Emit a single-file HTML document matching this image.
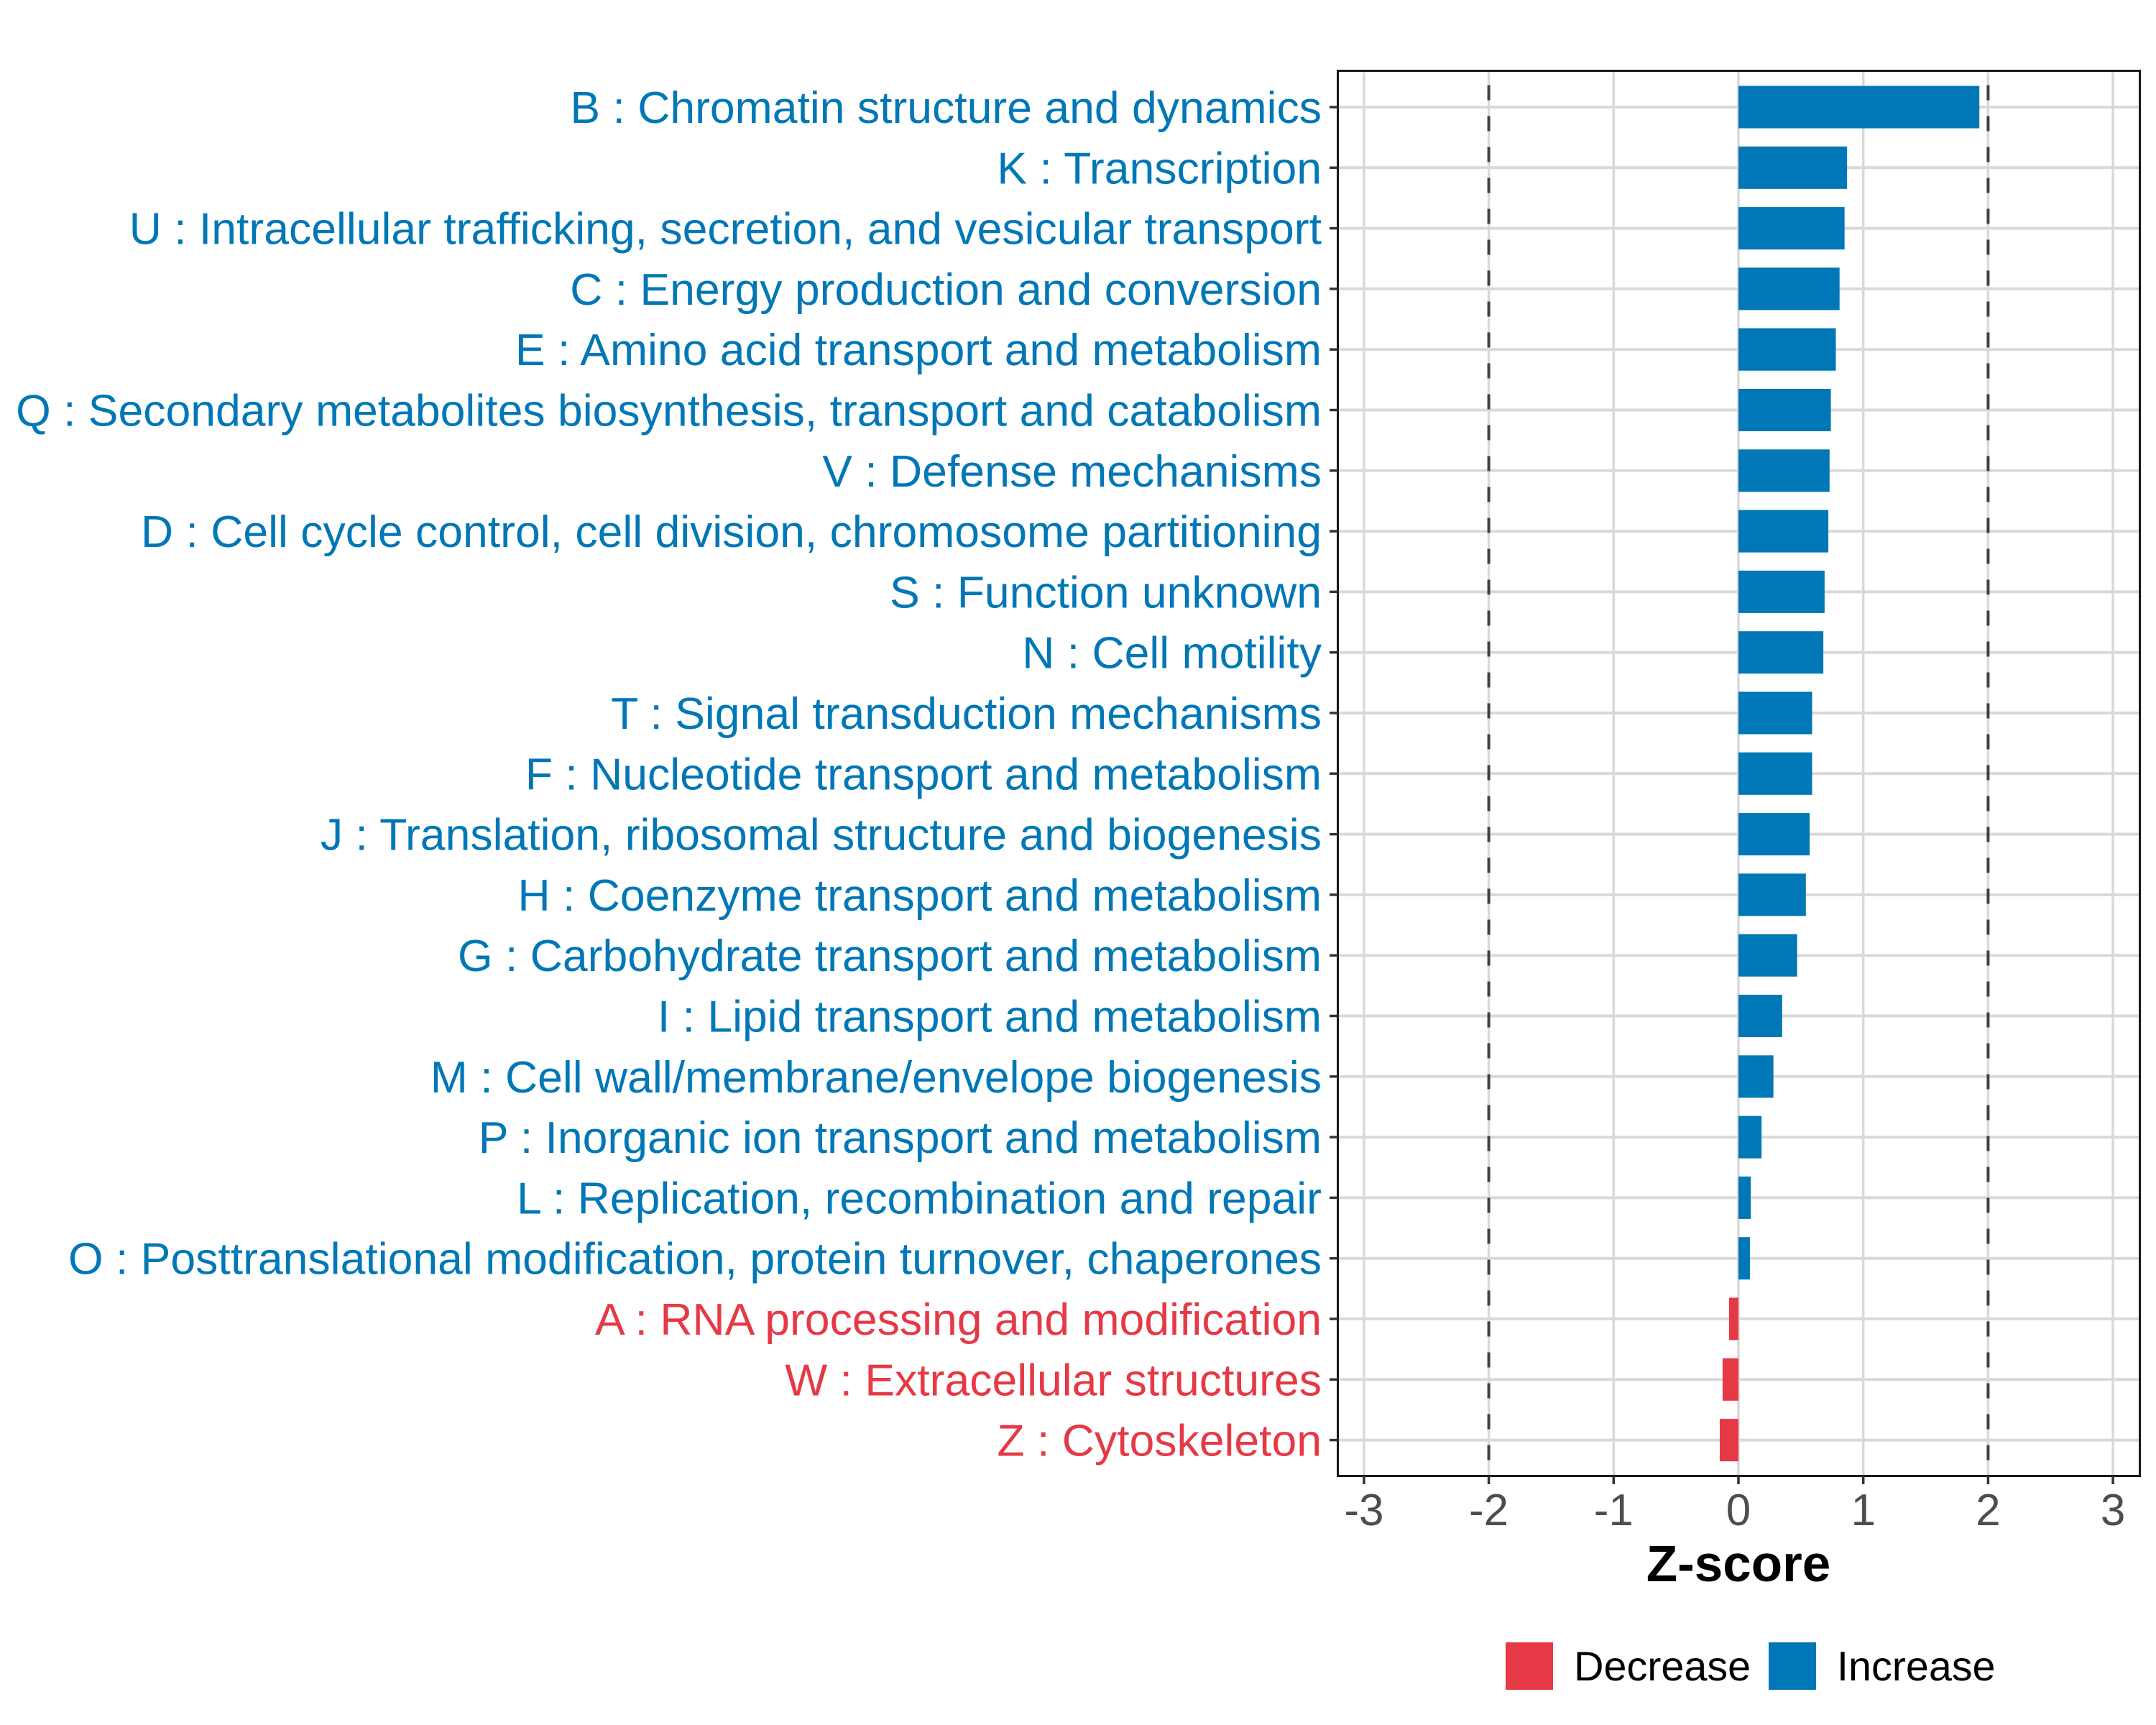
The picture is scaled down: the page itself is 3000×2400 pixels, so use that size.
<!DOCTYPE html>
<html><head><meta charset="utf-8"><style>
html,body{margin:0;padding:0;background:#fff;}
svg{display:block;font-family:"Liberation Sans",Arial,sans-serif;}
</style></head><body>
<svg id="chart" width="3000" height="2400" viewBox="0 0 3000 2400">
<g id="grid"></g>
<g id="bars"></g>
<g id="refs"></g>
<rect x="1861.5" y="98.5" width="1116" height="1955" fill="none" stroke="#1a1a1a" stroke-width="3"/>
<g id="yaxis"></g>
<g id="xaxis"></g>
<text x="2419" y="2200" font-size="71" font-weight="bold" text-anchor="middle" fill="#000">Z-score</text>
<g>
<rect x="2095" y="2285" width="66" height="66" fill="#E63946"/>
<text x="2190" y="2338" font-size="57.5" fill="#000">Decrease</text>
<rect x="2461" y="2285" width="66" height="66" fill="#0077B6"/>
<text x="2556" y="2338" font-size="57.5" fill="#000">Increase</text>
</g>
</svg>
<script>
const categories = ["B : Chromatin structure and dynamics","K : Transcription","U : Intracellular trafficking, secretion, and vesicular transport","C : Energy production and conversion","E : Amino acid transport and metabolism","Q : Secondary metabolites biosynthesis, transport and catabolism","V : Defense mechanisms","D : Cell cycle control, cell division, chromosome partitioning","S : Function unknown","N : Cell motility","T : Signal transduction mechanisms","F : Nucleotide transport and metabolism","J : Translation, ribosomal structure and biogenesis","H : Coenzyme transport and metabolism","G : Carbohydrate transport and metabolism","I : Lipid transport and metabolism","M : Cell wall/membrane/envelope biogenesis","P : Inorganic ion transport and metabolism","L : Replication, recombination and repair","O : Posttranslational modification, protein turnover, chaperones","A : RNA processing and modification","W : Extracellular structures","Z : Cytoskeleton"];
const zscores = [1.93,0.87,0.85,0.81,0.78,0.74,0.73,0.72,0.69,0.68,0.59,0.59,0.57,0.54,0.47,0.35,0.28,0.185,0.098,0.092,-0.075,-0.127,-0.15];
const xTicks = [-3,-2,-1,0,1,2,3];
const xTickLabels = ["-3","-2","-1","0","1","2","3"];
const refValues = [-2,2];

const NS="http://www.w3.org/2000/svg";
const X0=2419, UNIT=173.7, Y0=149, STEP=84.3, BARH=59;
const xs=v=>X0+v*UNIT;
const ys=i=>Y0+i*STEP;
function mk(tag,attrs,parent){const e=document.createElementNS(NS,tag);for(const k in attrs)e.setAttribute(k,attrs[k]);parent.appendChild(e);return e;}
const grid=document.getElementById('grid'),bars=document.getElementById('bars'),refs=document.getElementById('refs'),yax=document.getElementById('yaxis'),xax=document.getElementById('xaxis');
mk('rect',{x:1861.5,y:98.5,width:1116,height:1955,fill:'#fff'},grid);
xTicks.forEach((t,i)=>{
  const l=mk('line',{x1:xs(t),x2:xs(t),y1:98.5,y2:2053.5,stroke:'#d9d9d9','stroke-width':3.5},grid);
  
  
  const tk=mk('line',{x1:xs(t),x2:xs(t),y1:2053.5,y2:2065,stroke:'#333','stroke-width':3.5},xax);
  
  
  const tx=mk('text',{x:xs(t),y:2122,'font-size':62,'text-anchor':'middle',fill:'#4d4d4d'},xax);
  tx.textContent=xTickLabels[i];
  
  
});
categories.forEach((c,i)=>{
  const y=ys(i);
  const gl=mk('line',{x1:1861.5,x2:2977.5,y1:y,y2:y,stroke:'#d9d9d9','stroke-width':4},grid);
  
  
  const v=zscores[i];
  const col=v<0?'#E63946':'#0077B6';
  const r=mk('rect',{x:Math.min(xs(0),xs(v)),y:y-BARH/2,width:Math.abs(xs(v)-xs(0)),height:BARH,fill:col},bars);
  
  
  const tk=mk('line',{x1:1850,x2:1861.5,y1:y,y2:y,stroke:'#333','stroke-width':3.5},yax);
  
  
  const t=mk('text',{x:1839,y:y+22,'font-size':62.5,'text-anchor':'end',fill:col},yax);
  t.textContent=c;
  
  
});
refValues.forEach(v=>{
  const l=mk('line',{x1:xs(v),x2:xs(v),y1:98.5,y2:2053.5,stroke:'#404040','stroke-width':4,'stroke-dasharray':'21 22','stroke-dashoffset':'-20'},refs);
  
  
});
</script>
</body></html>
